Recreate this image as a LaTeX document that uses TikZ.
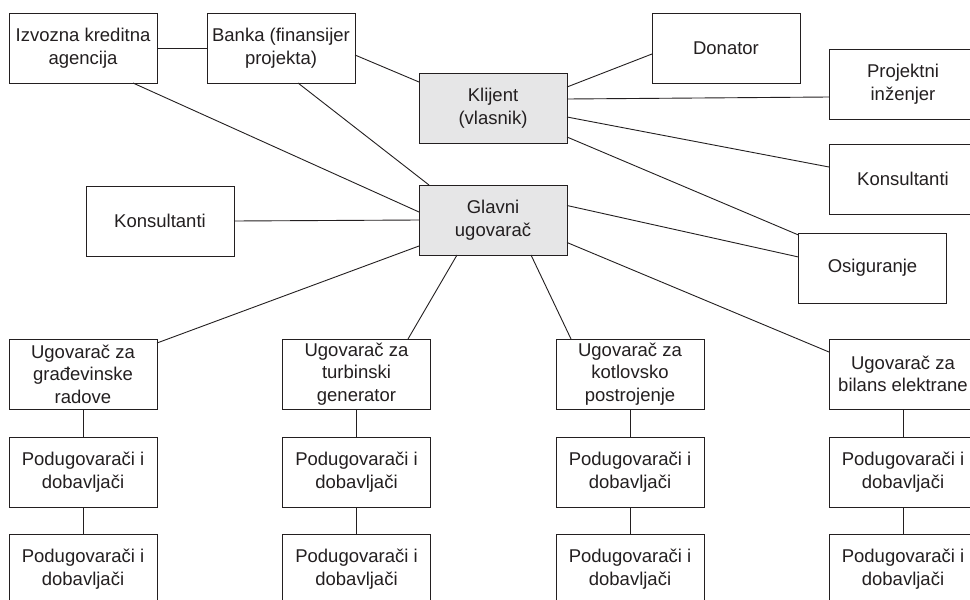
\documentclass[tikz,border=0pt]{standalone}
\usepackage{fontspec}
\setmainfont{Liberation Sans}
\usetikzlibrary{calc}
\definecolor{ink}{RGB}{35,31,32}
\definecolor{boxgray}{RGB}{230,230,231}
\tikzset{
  org/.style={draw=ink, line width=1pt, fill=white, minimum width=148pt, minimum height=70pt,
    inner sep=0pt, outer sep=0pt, align=center, text=ink,
    font=\fontsize{18.5}{22.6}\selectfont},
  key/.style={org, fill=boxgray},
  link/.style={draw=ink, line width=0.9pt}
}
\begin{document}
\begin{tikzpicture}[x=1pt, y=-1pt]
\useasboundingbox (0,0) rectangle (970,600);
\clip (0,0) rectangle (970,600);
\fill[white] (0,0) rectangle (970,600);
% top part
\node[org] (izv) at (83,48) {Izvozna kreditna\\agencija};
\node[org] (banka) at (281,48) {Banka (finansijer\\projekta)};
\node[key] (klijent) at (493,108) {Klijent\\(vlasnik)};
\node[key] (glavni) at (493,220) {Glavni\\ugovarač};
\node[org] (konsL) at (160,221) {Konsultanti};
\node[org] (donator) at (726,48) {Donator};
\node[org] (projektni) at (903,84) {Projektni\\inženjer};
\node[org] (konsR) at (903,179) {Konsultanti};
\node[org] (osig) at (872.5,268) {Osiguranje};
% contractors
\node[org] (gra) at (83,374) {Ugovarač za\\građevinske\\radove};
\node[org] (turb) at (356.5,374) {Ugovarač za\\turbinski\\generator};
\node[org] (kotl) at (630,374) {Ugovarač za\\kotlovsko\\postrojenje};
\node[org] (bil) at (903,374) {Ugovarač za\\bilans elektrane};
% subcontractors
\node[org] (graA) at (83,472) {Podugovarači i\\dobavljači};
\node[org] (graB) at (83,569) {Podugovarači i\\dobavljači};
\node[org] (turbA) at (356.5,472) {Podugovarači i\\dobavljači};
\node[org] (turbB) at (356.5,569) {Podugovarači i\\dobavljači};
\node[org] (kotlA) at (630,472) {Podugovarači i\\dobavljači};
\node[org] (kotlB) at (630,569) {Podugovarači i\\dobavljači};
\node[org] (bilA) at (903,472) {Podugovarači i\\dobavljači};
\node[org] (bilB) at (903,569) {Podugovarači i\\dobavljači};
% connectors
\draw[link] (izv.east) -- (banka.west);
\draw[link] ($(banka.east)+(0,7)$) -- ($(klijent.west)+(0,-26)$);
\draw[link] ($(izv.south)+(50,0)$) -- ($(glavni.west)+(0,-8)$);
\draw[link] ($(banka.south)+(17,0)$) -- ($(glavni.north)+(-64,0)$);
\draw[link] (konsL.east) -- (glavni.west);
\draw[link] ($(glavni.west)+(0,26)$) -- ($(gra.east)+(0,-31)$);
\draw[link] ($(glavni.south)+(-36,0)$) -- ($(turb.north)+(51.5,0)$);
\draw[link] ($(glavni.south)+(38,0)$) -- ($(kotl.north)+(-59,0)$);
\draw[link] ($(glavni.east)+(0,22.5)$) -- ($(bil.west)+(0,-22)$);
\draw[link] ($(glavni.east)+(0,-14.5)$) -- ($(osig.west)+(0,-11)$);
\draw[link] ($(klijent.east)+(0,-21)$) -- ($(donator.west)+(0,6)$);
\draw[link] ($(klijent.east)+(0,-9)$) -- ($(projektni.west)+(0,13)$);
\draw[link] ($(klijent.east)+(0,9)$) -- ($(konsR.west)+(0,-12)$);
\draw[link] ($(klijent.east)+(0,29)$) -- ($(osig.north west)+(0,2)$);
\foreach \c in {gra,turb,kotl,bil}{
  \draw[link] (\c.south) -- (\c A.north);
  \draw[link] (\c A.south) -- (\c B.north);
}
\end{tikzpicture}
\end{document}
